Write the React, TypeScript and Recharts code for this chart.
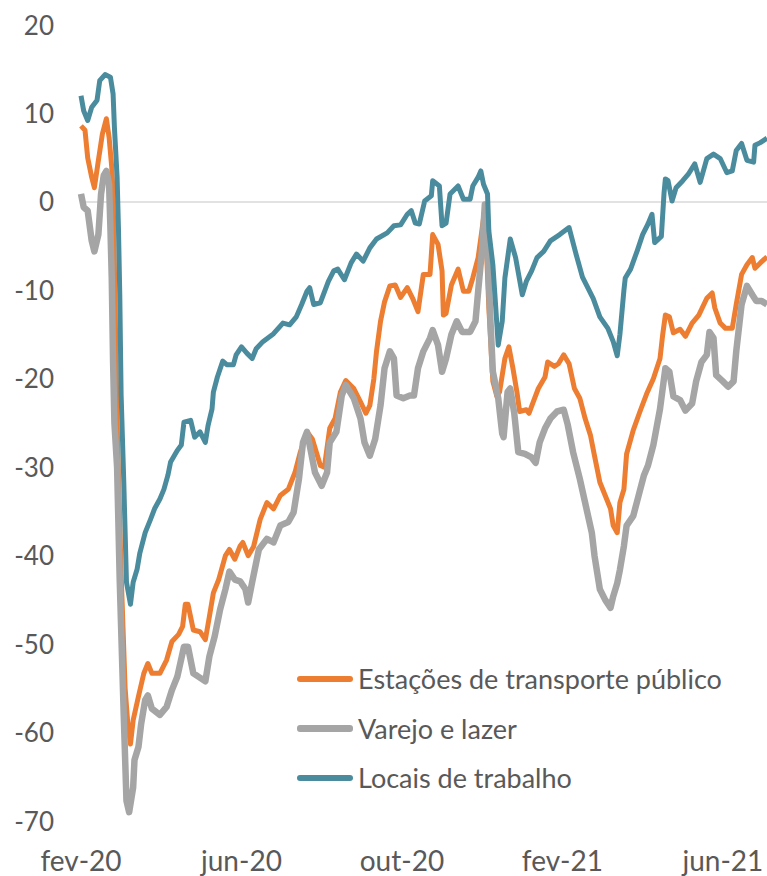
import React from 'react';
import { LineChart, Line, XAxis, YAxis, ReferenceLine } from 'recharts';

// x = days since the first observation (fev-20)
const tickDays = [0, 120, 240, 360, 480];
const tickLabels = ['fev-20', 'jun-20', 'out-20', 'fev-21', 'jun-21'];
const yTicks = [-70, -60, -50, -40, -30, -20, -10, 0, 10, 20];

const transitDays = [
  0, 3, 5, 8, 10, 13, 16, 19, 21, 23, 24, 27, 30, 33, 35, 37, 39, 43, 47, 50,
  53, 59, 64, 68, 73, 76, 78, 80, 84, 89, 93, 96, 99, 103, 108, 111, 115, 119, 121, 125,
  129, 134, 139, 144, 149, 155, 160, 164, 169, 173, 179, 182, 186, 190, 194, 198, 204, 209, 213, 216,
  219, 221, 224, 227, 231, 235, 239, 244, 248, 252, 256, 261, 263, 267, 270, 271, 273, 277, 282, 286,
  290, 293, 297, 300, 302, 305, 308, 311, 313, 317, 320, 323, 326, 328, 333, 335, 338, 342, 347, 349,
  354, 357, 361, 365, 369, 373, 377, 381, 384, 388, 392, 396, 398, 401, 403, 406, 408, 413, 418, 423,
  428, 433, 435, 437, 440, 443, 448, 452, 457, 462, 468, 472, 474, 478, 482, 487, 490, 494, 498, 502,
  504, 508, 513,
];
const transitVals = [
  8.6, 8.1, 5.0, 2.8, 1.6, 4.7, 7.7, 9.4, 7.3, 3.9, 0.9, -25, -42, -55, -59, -61.3, -58.6, -55.9, -53.3, -52.2,
  -53.3, -53.3, -51.8, -49.7, -48.9, -48, -45.5, -45.5, -48.4, -48.6, -49.5, -46.9, -44.2, -42.7, -40, -39.3, -40.4, -38.9, -38.5, -40,
  -39, -35.9, -34, -34.7, -33.2, -32.5, -30.6, -28.3, -26, -26.8, -29.8, -30, -25.6, -24.5, -21.5, -20.2, -21.1, -22.6, -23.9, -23,
  -20, -16.9, -13.5, -11.3, -9.5, -9.4, -10.8, -9.7, -10.9, -12.4, -8.2, -8.2, -3.7, -4.8, -7.8, -12.8, -12.6, -9.4, -7.6, -10.1,
  -10.1, -8.6, -6.3, -3, -0.8, -12, -20.3, -22, -21.5, -17.7, -16.4, -18.8, -21.5, -23.7, -23.5, -23.9, -22.7, -21.1, -19.8, -18.1,
  -18.6, -18.3, -17.3, -18.3, -21.1, -22.2, -24.5, -26.4, -28.7, -31.7, -33.2, -34.7, -36.6, -37.4, -34, -32.5, -28.5, -25.8, -23.7, -21.7,
  -20, -17.7, -15, -12.8, -13, -14.8, -14.4, -15.2, -13.7, -12.8, -10.9, -10.3, -12, -13.7, -14.3, -14.3, -11.6, -8.2, -7.1, -6.3,
  -7.5, -6.9, -6.2,
];

const retailDays = [
  0, 2, 5, 8, 10, 13, 15, 17, 19, 21, 22, 23, 24, 25, 27, 29, 32, 34, 36, 39,
  40, 43, 45, 48, 50, 53, 59, 64, 68, 72, 77, 80, 84, 88, 93, 96, 100, 104, 108, 111,
  115, 119, 123, 125, 128, 133, 139, 144, 149, 155, 159, 163, 166, 169, 171, 175, 180, 184, 186, 191,
  195, 198, 204, 209, 212, 216, 220, 224, 227, 231, 234, 236, 241, 246, 249, 252, 256, 261, 263, 267,
  270, 273, 277, 281, 285, 291, 295, 297, 300, 302, 304, 306, 308, 312, 315, 316, 319, 321, 324, 327,
  332, 337, 340, 343, 347, 351, 356, 361, 364, 368, 373, 378, 382, 384, 388, 392, 396, 398, 401, 403,
  406, 408, 413, 417, 421, 424, 428, 433, 437, 440, 443, 448, 452, 457, 460, 464, 468, 470, 473, 475,
  480, 484, 488, 490, 494, 498, 502, 505, 509, 513,
];
const retailVals = [
  0.9, -0.6, -1.0, -4.4, -5.6, -3.7, 0.9, 3.0, 3.5, 2.0, -2.9, -8.6, -18.1, -25, -30, -43, -58.2, -67.7, -69, -66.2,
  -63.1, -61.6, -59, -56.3, -55.8, -57.3, -58, -57.1, -55.2, -53.7, -50.3, -50.3, -53.3, -53.7, -54.2, -51.4, -49.1, -46.1, -43.8, -41.8,
  -42.7, -42.9, -43.8, -45.3, -43, -39.3, -38.1, -38.5, -36.6, -36.2, -35.1, -31.3, -27.2, -26, -27.5, -30.6, -32.1, -30.6, -27.2, -26,
  -21.9, -20.7, -22.2, -24.5, -27.2, -28.7, -26.8, -23, -18.8, -16.9, -17.7, -21.9, -22.2, -21.9, -21.9, -18.8, -16.9, -15.4, -14.5, -16.2,
  -19.2, -17.7, -15, -13.5, -14.7, -14.7, -13.5, -10.1, -5.2, -0.3, -5.2, -12.8, -19.2, -22.2, -26.2, -26.6, -21.5, -21.1, -23.9, -28.3,
  -28.5, -28.9, -29.5, -27.2, -25.6, -24.5, -23.7, -23.5, -25.2, -28.3, -31.3, -34.7, -37.4, -40, -43.8, -45, -45.9, -44.6, -43.1, -41.6,
  -38.9, -36.6, -35.5, -33.2, -30.9, -29.8, -27.5, -23.4, -18.8, -19.2, -22, -22.4, -23.6, -22.8, -20.3, -18.1, -17.3, -14.7, -15.4, -19.6,
  -20.3, -20.9, -20.3, -16.9, -11.6, -9.5, -10.5, -11.2, -11.2, -11.6,
];

const workDays = [
  0, 2, 5, 8, 12, 14, 18, 22, 24, 25, 27, 28, 29, 30, 32, 34, 37, 39, 42, 44,
  48, 52, 55, 59, 62, 65, 67, 72, 75, 77, 82, 85, 89, 93, 95, 98, 99, 102, 106, 109,
  114, 116, 120, 124, 128, 131, 136, 144, 151, 156, 161, 165, 169, 171, 174, 179, 185, 189, 192, 197,
  202, 206, 211, 216, 221, 229, 234, 239, 244, 247, 250, 253, 257, 262, 263, 268, 270, 273, 276, 282,
  286, 291, 293, 297, 299, 301, 304, 305, 308, 310, 312, 315, 317, 321, 325, 330, 333, 337, 341, 346,
  351, 358, 365, 370, 375, 383, 388, 394, 398, 401, 403, 406, 407, 411, 416, 420, 424, 427, 429, 434,
  436, 437, 439, 442, 445, 450, 454, 459, 463, 468, 473, 478, 483, 487, 490, 494, 498, 503, 504, 508,
  512, 513,
];
const workVals = [
  12, 10.3, 9.2, 10.7, 11.5, 13.7, 14.4, 14.1, 12.2, 8.4, 2.8, -2.9, -10.5, -21.8, -31.7, -43, -45.5, -43, -41.5, -39.7,
  -37.4, -35.9, -34.7, -33.6, -32.5, -30.9, -29.4, -28.1, -27.5, -24.9, -24.7, -26.6, -26, -27.2, -25.3, -23.4, -21.5, -19.8, -18, -18.4,
  -18.4, -17.3, -16.4, -17.1, -17.7, -16.6, -15.8, -14.9, -13.7, -13.9, -13, -11.6, -10.1, -9.7, -11.6, -11.4, -9, -7.8, -7.6, -8.8,
  -6.9, -5.9, -6.7, -5.2, -4.2, -3.5, -2.7, -2.6, -1.4, -1.0, -2.4, -2.5, 0.1, 0.7, 2.4, 1.8, -2.7, -2.4, 0.9, 1.8,
  0.3, 0.3, 1.8, 2.8, 3.5, 2.0, 0.9, -3.3, -7.1, -11.6, -16.2, -13.5, -8.6, -4.2, -6.3, -10.5, -9, -7.8, -6.3, -5.6,
  -4.4, -3.7, -2.9, -5.8, -8.5, -10.9, -13, -14.3, -15.8, -17.4, -15, -10, -8.6, -7.6, -5.5, -3.7, -2.5, -1.4, -4.6, -3.9,
  1.0, 2.6, 2.4, 0.1, 1.6, 2.4, 3.1, 4.3, 2.2, 4.9, 5.4, 4.9, 3.3, 3.5, 5.8, 6.6, 4.7, 4.5, 6.4, 6.7,
  7.1, 7.2,
];

const toPoints = (days: number[], vals: number[]) =>
  days.map((d, i) => ({ day: d, v: vals[i] }));

const series = [
  { name: 'Estações de transporte público', color: '#ED7D31', width: 5, data: toPoints(transitDays, transitVals) },
  { name: 'Varejo e lazer', color: '#A5A5A5', width: 6.5, data: toPoints(retailDays, retailVals) },
  { name: 'Locais de trabalho', color: '#4A8C9D', width: 5, data: toPoints(workDays, workVals) },
];

const FONT = 'Lato, sans-serif';
const TEXT = '#595959';

const XTick = ({ x, y, payload }: any) => {
  const idx = tickDays.indexOf(payload.value);
  return (
    <text x={x} y={y} dy={48} textAnchor="middle" fill={TEXT} fontSize={28} fontFamily={FONT}>
      {tickLabels[idx]}
    </text>
  );
};

const YTick = ({ x, y, payload }: any) => (
  <text x={x} y={y} dy={9.5} textAnchor="end" fill={TEXT} fontSize={26} fontFamily={FONT}>
    {payload.value}
  </text>
);

export default function App() {
  return (
    <div style={{ position: 'absolute', left: 0, top: 0, width: 767, height: 876, background: '#fff' }}>
      <LineChart width={767} height={876} margin={{ top: 25, right: 0, bottom: 0, left: 0 }}>
        <XAxis
          type="number"
          dataKey="day"
          domain={[0, 513]}
          ticks={tickDays}
          tick={<XTick />}
          axisLine={false}
          tickLine={false}
          tickSize={0}
          height={55}
          allowDuplicatedCategory={false}
        />
        <YAxis
          type="number"
          domain={[-70, 20]}
          ticks={yTicks}
          tick={<YTick />}
          axisLine={false}
          tickLine={false}
          tickSize={0}
          tickMargin={27}
          width={81}
        />
        <ReferenceLine y={0} stroke="#D9D9D9" strokeWidth={1.5} />
        {series.map((s) => (
          <Line
            key={s.name}
            data={s.data}
            dataKey="v"
            name={s.name}
            type="linear"
            stroke={s.color}
            strokeWidth={s.width}
            strokeLinejoin="round"
            dot={false}
            isAnimationActive={false}
          />
        ))}
      </LineChart>
      <div style={{ position: 'absolute', left: 297, top: 654, fontFamily: FONT, fontSize: 27, color: TEXT }}>
        {series.map((s) => (
          <div key={s.name} style={{ display: 'flex', alignItems: 'center', height: 49.5 }}>
            <div
              style={{
                width: 56,
                height: s.width + 0.5,
                borderRadius: 3,
                background: s.color,
                marginRight: 5,
              }}
            />
            <span style={{ lineHeight: '49.5px' }}>{s.name}</span>
          </div>
        ))}
      </div>
    </div>
  );
}
